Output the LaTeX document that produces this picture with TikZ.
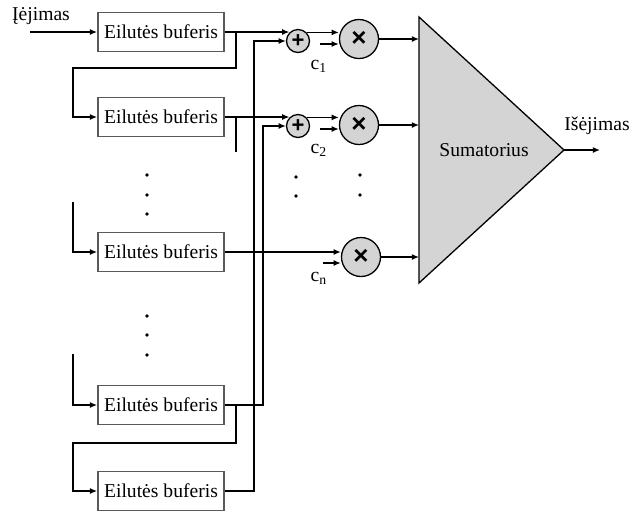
\documentclass[tikz,border=0pt]{standalone}
\usepackage{fontspec}
\setmainfont{Liberation Serif}
\newfontfamily\opfont{Liberation Sans}
\usetikzlibrary{arrows.meta}

\begin{document}
\begin{tikzpicture}[x=0.5pt,y=-0.5pt,
   font=\fontsize{9.8}{11}\selectfont,
   line width=0.65pt,
   >={Latex[length=3.6pt,width=3pt]},
   buffer/.style={draw=black!65,line width=0.9pt,fill=white,
                  minimum width=63pt,minimum height=19.5pt,inner sep=0pt},
   adder/.style={circle,draw,fill=black!17,minimum size=11.5pt,inner sep=0pt,
                 font=\opfont\bfseries\fontsize{11}{11}\selectfont},
   mult/.style={circle,draw,fill=black!17,minimum size=19.5pt,inner sep=0pt,
                font=\opfont\bfseries\fontsize{13}{13}\selectfont},
   dot/.style={circle,fill,inner sep=0pt,minimum size=1.8pt}]

\useasboundingbox (0,0) rectangle (642,511);

\coordinate (tap) at (236,0);
\coordinate (left) at (73,0);
\coordinate (busA) at (254,0);
\coordinate (busB) at (263,0);

\foreach \n/\y in {1/32,2/117,3/252,4/405,5/491}
   \node[buffer] (b\n) at (161,\y) {Eilutės buferis};

\node[adder] (a1) at (298,41) {+};
\node[adder] (a2) at (298,126) {+};
\node[mult] (m1) at (359,39) {×};
\node[mult] (m2) at (359,125) {×};
\node[mult] (mn) at (361,257) {×};

\foreach \y in {175,195,214,316,335,355}
   \node[dot] (d\y) at (147,\y) {};
\node[dot] (da1) at (296,177) {};
\node[dot] (da2) at (296,196) {};
\node[dot] (dm1) at (360,175) {};
\node[dot] (dm2) at (360,195) {};

% sumatorius
\draw[fill=black!17] (419,17) coordinate (st) -- (564,150) coordinate (sa)
   -- (419,283) coordinate (sb) -- cycle;
\node (sum) at (484,150) {Sumatorius};

\coordinate (in) at (30,32);
\node (lin) at (41,16) {Įėjimas};
\draw[->] (in) -- (b1.west);

\coordinate (out) at (600,150);
\node (lout) at (597,126) {Išėjimas};
\draw[->] (sa) -- (out);

% buferiu grandine
\draw[->] (b1.east -| tap) -- ++(0,36) -| (left |- b2.west) -- (b2.west);
\draw (b2.east -| tap) -- ++(0,35);
\coordinate (s3) at (73,202);
\draw[->] (s3) |- (b3.west);
\coordinate (s4) at (73,354);
\draw[->] (s4) |- (b4.west);
\draw[->] (b4.east -| tap) -- ++(0,38) -| (left |- b5.west) -- (b5.west);

% sudetis
\draw[->] (b1.east) -- (b1.east -| a1.north west);
\draw[->] (b2.east) -- (b2.east -| a2.north west);
\draw[->] (b5.east) -| (busA |- a1.west) -- (a1.west);
\draw[->] (b4.east) -| (busB |- a2.west) -- (a2.west);

% daugyba
\draw[->] (a1.north east) -- (a1.north east -| m1.west);
\draw[->] (a2.north east) -- (a2.north east -| m2.west);
\draw[->] (b3.east) -- (b3.east -| mn.west);

\coordinate (c1) at (320,44);
\coordinate (c2) at (320,129);
\coordinate (cn) at (323,263);
\draw[->] (c1) -- (c1 -| m1.west);
\draw[->] (c2) -- (c2 -| m2.west);
\draw[->] (cn) -- (cn -| mn.west);
\node (lc1) at (319,66) {c\textsubscript{1}};
\node (lc2) at (319,150) {c\textsubscript{2}};
\node (lcn) at (319,278) {c\textsubscript{n}};

\draw[->] (m1.east) -- (m1.east -| st);
\draw[->] (m2.east) -- (m2.east -| st);
\draw[->] (mn.east) -- (mn.east -| st);

\end{tikzpicture}
\end{document}
